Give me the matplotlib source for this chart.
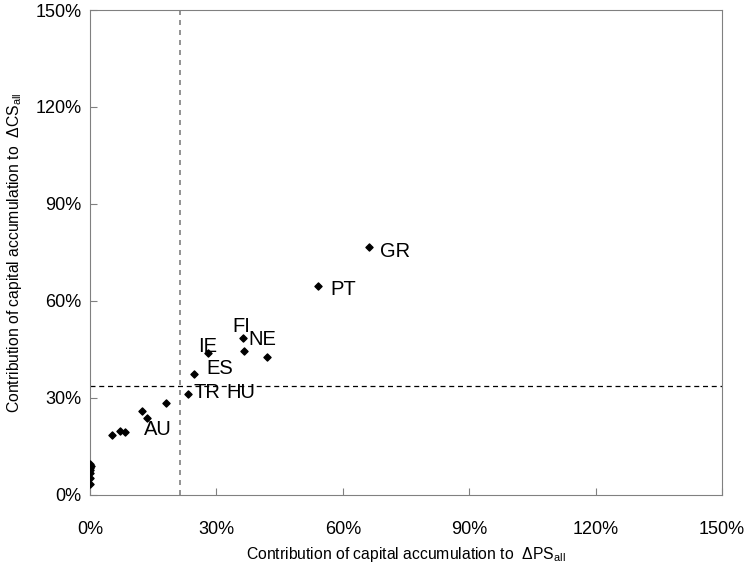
import numpy as np
import matplotlib
matplotlib.use('Agg')
from matplotlib import pyplot as plt
from matplotlib.ticker import FuncFormatter

plt.rcParams['font.family'] = ['Liberation Sans', 'DejaVu Sans']
plt.rcParams['mathtext.fontset'] = 'custom'
plt.rcParams['mathtext.rm'] = 'Liberation Sans'
plt.rcParams['mathtext.it'] = 'Liberation Sans'

# contribution to dPS_all (x) and dCS_all (y), in percent
ps_all = [66.2, 54.1, 36.2, 36.6, 42.1, 28.1, 24.7, 23.2, 18.0, 12.3, 13.6,
          5.3, 7.1, 8.3, 0.0, 0.2, 0.0, 0.1, 0.0, 0.0, 0.0]
cs_all = [76.7, 64.6, 48.6, 44.5, 42.7, 44.0, 37.3, 31.1, 28.4, 26.0, 23.9,
          18.6, 19.8, 19.3, 9.5, 8.8, 7.7, 6.7, 5.2, 3.3, 8.2]

# country labels and where their text sits (percent)
labels = ['GR', 'PT', 'FI', 'NE', 'IE', 'ES', 'TR', 'HU', 'AU']
label_x = [68.8, 57.0, 33.8, 37.6, 25.7, 27.5, 24.5, 32.4, 12.7]
label_y = [75.2, 63.4, 52.1, 48.2, 45.9, 39.0, 31.5, 31.5, 20.1]

avg_ps = 21.3
avg_cs = 33.8

fig = plt.figure(figsize=(7.53, 5.72), dpi=100)
ax = fig.add_axes([0.1195, 0.135, 0.8395, 0.8475])

ax.scatter(ps_all, cs_all, marker='D', s=13, c='black', zorder=3)
for i in range(len(labels)):
    ax.text(label_x[i], label_y[i], labels[i], fontsize=14.5, ha='left', va='center')

ax.axvline(avg_ps, color='#808080', linestyle='--', linewidth=1.2, dashes=(3, 3))
ax.axhline(avg_cs, color='black', linestyle='--', linewidth=0.9, dashes=(4, 3))

ax.set_xlim(0, 150)
ax.set_ylim(0, 150)
ticks = [0, 30, 60, 90, 120, 150]
ax.set_xticks(ticks)
ax.set_yticks(ticks)
pct = FuncFormatter(lambda v, p: '{:.0f}%'.format(v))
ax.xaxis.set_major_formatter(pct)
ax.yaxis.set_major_formatter(pct)
ax.tick_params(direction='in', length=5, color='#808080', labelsize=13)
ax.tick_params(axis='x', pad=19)
ax.tick_params(axis='y', pad=6)

for s in ax.spines.values():
    s.set_color('#808080')

ax.set_xlabel(r'Contribution of capital accumulation to  $\Delta$PS$_{\mathrm{all}}$', fontsize=11.3, labelpad=5)
ax.set_ylabel(r'Contribution of capital accumulation to  $\Delta$CS$_{\mathrm{all}}$', fontsize=11.3, labelpad=8)

fig.savefig('out.png', dpi=100)
